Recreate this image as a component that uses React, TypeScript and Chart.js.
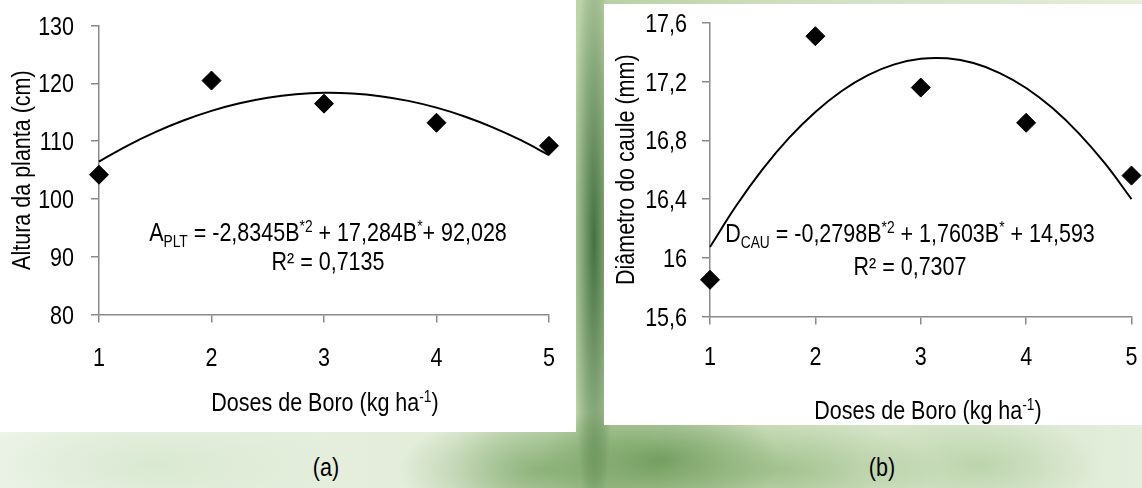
import React, { useEffect, useRef } from "react";
import { Chart, registerables } from "chart.js";

Chart.register(...registerables);

// ---------- data ----------
const doses = [1, 2, 3, 4, 5];
const alturaPlanta = [104.2, 120.5, 116.5, 113.2, 109.2];
const diametroCaule = [15.85, 17.51, 17.16, 16.92, 16.56];

// trend curves, x every 0.25
const trendX = [1, 1.25, 1.5, 1.75, 2, 2.25, 2.5, 2.75, 3, 3.25, 3.5, 3.75, 4, 4.25, 4.5, 4.75, 5];
const trendAltura = [106.478, 109.204, 111.576, 113.594, 115.258, 116.567, 117.522, 118.123, 118.37, 118.262, 117.799, 116.983, 115.812, 114.287, 112.407, 110.174, 107.586];
const trendDiametro = [16.074, 16.356, 16.604, 16.817, 16.994, 17.137, 17.245, 17.318, 17.356, 17.359, 17.327, 17.259, 17.157, 17.02, 16.848, 16.641, 16.4];

const xTicks = [1, 2, 3, 4, 5];
const xTickLabels = ["1", "2", "3", "4", "5"];
const yTicksA = [80, 90, 100, 110, 120, 130];
const yTickLabelsA = ["80", "90", "100", "110", "120", "130"];
const yTicksB = [15.6, 16, 16.4, 16.8, 17.2, 17.6];
const yTickLabelsB = ["15,6", "16", "16,4", "16,8", "17,2", "17,6"];

const FONT = "'Liberation Sans', Arial, sans-serif";
const SX = 0.86; // narrow (Arial Narrow-like) horizontal scale
const AXIS_COLOR = "#8a8a8a";

type Cfg = {
  values: number[];
  trend: number[];
  yTicks: number[];
  yLabels: string[];
  yTitle: string;
  yAxisWidth: number;
  yLabelRight: number;
  yTitleX: number;
  xLabelBase: number;
  padTop: number;
  padRight: number;
  padBottom: number;
  xAxisHeight: number;
};

const narrowLabels = {
  id: "narrowLabels",
  afterDraw(chart: any) {
    const c: Cfg = chart.options.plugins.narrowLabels.cfg;
    const ctx: CanvasRenderingContext2D = chart.ctx;
    const xs = chart.scales.x;
    const ys = chart.scales.y;
    ctx.save();
    ctx.fillStyle = "#000";
    ctx.font = `25px ${FONT}`;
    ctx.textBaseline = "alphabetic";
    // y tick labels
    ctx.textAlign = "right";
    c.yTicks.forEach((v, i) => {
      const y = ys.getPixelForValue(v);
      ctx.save();
      ctx.translate(c.yLabelRight, y + 9);
      ctx.scale(SX, 1);
      ctx.fillText(c.yLabels[i], 0, 0);
      ctx.restore();
    });
    // x tick labels
    ctx.textAlign = "center";
    xTicks.forEach((v, i) => {
      const x = xs.getPixelForValue(v);
      ctx.save();
      ctx.translate(x, c.xLabelBase);
      ctx.scale(SX, 1);
      ctx.fillText(xTickLabels[i], 0, 0);
      ctx.restore();
    });
    // y title
    ctx.save();
    ctx.translate(c.yTitleX, (ys.top + ys.bottom) / 2);
    ctx.rotate(-Math.PI / 2);
    ctx.scale(SX, 1);
    ctx.textAlign = "center";
    ctx.fillText(c.yTitle, 0, 0);
    ctx.restore();
    ctx.restore();
  },
};

function makeChart(canvas: HTMLCanvasElement, c: Cfg) {
  const grid = { display: true, drawOnChartArea: false, drawTicks: true, tickLength: 8, color: AXIS_COLOR, lineWidth: 1.5 };
  const border = { display: true, color: AXIS_COLOR, width: 1.5 };
  return new Chart(canvas, {
    type: "scatter",
    data: {
      datasets: [
        {
          data: doses.map((x, i) => ({ x, y: c.values[i] })),
          pointStyle: "rectRot",
          pointRadius: 9.5,
          backgroundColor: "#000",
          borderColor: "#000",
          borderWidth: 1,
          clip: false,
          order: 0,
        } as any,
        {
          data: trendX.map((x, i) => ({ x, y: c.trend[i] })),
          showLine: true,
          pointRadius: 0,
          borderColor: "#000",
          borderWidth: 2,
          tension: 0.4,
          fill: false,
          clip: false,
          order: 1,
        } as any,
      ],
    },
    plugins: [narrowLabels],
    options: {
      animation: false,
      responsive: false,
      events: [],
      layout: { padding: { left: 0, top: c.padTop, right: c.padRight, bottom: c.padBottom } },
      plugins: {
        legend: { display: false },
        tooltip: { enabled: false },
        title: { display: false },
        narrowLabels: { cfg: c },
      },
      scales: {
        x: {
          type: "linear",
          min: 1,
          max: 5,
          afterBuildTicks: (s: any) => {
            s.ticks = xTicks.map((v) => ({ value: v }));
          },
          afterFit: (s: any) => {
            s.height = c.xAxisHeight;
          },
          ticks: { display: false },
          grid,
          border,
        },
        y: {
          type: "linear",
          min: c.yTicks[0],
          max: c.yTicks[c.yTicks.length - 1],
          afterBuildTicks: (s: any) => {
            s.ticks = c.yTicks.map((v) => ({ value: v }));
          },
          afterFit: (s: any) => {
            s.width = c.yAxisWidth;
          },
          ticks: { display: false },
          grid,
          border,
          title: { display: false },
        },
      },
    } as any,
  });
}

const txt: React.CSSProperties = {
  position: "absolute",
  fontFamily: FONT,
  fontSize: 25,
  lineHeight: "30px",
  color: "#000",
  whiteSpace: "nowrap",
  textAlign: "center",
  transform: `scaleX(${SX})`,
  transformOrigin: "50% 50%",
};
const sub: React.CSSProperties = { fontSize: 16, position: "relative", top: 6 };
const sup: React.CSSProperties = { fontSize: 16, position: "relative", top: -9 };

export default function App() {
  const refA = useRef<HTMLCanvasElement>(null);
  const refB = useRef<HTMLCanvasElement>(null);

  useEffect(() => {
    const a = makeChart(refA.current!, {
      values: alturaPlanta,
      trend: trendAltura,
      yTicks: yTicksA,
      yLabels: yTickLabelsA,
      yTitle: "Altura da planta (cm)",
      yAxisWidth: 99,
      yLabelRight: 74,
      yTitleX: 30,
      xLabelBase: 365.5,
      padTop: 25.7,
      padRight: 576 - 549,
      padBottom: 432 - 314.5 - 60,
      xAxisHeight: 60,
    });
    const b = makeChart(refB.current!, {
      values: diametroCaule,
      trend: trendDiametro,
      yTicks: yTicksB,
      yLabels: yTickLabelsB,
      yTitle: "Diâmetro do caule (mm)",
      yAxisWidth: 106,
      yLabelRight: 83,
      yTitleX: 30,
      xLabelBase: 361,
      padTop: 19,
      padRight: 538 - 531,
      padBottom: 421 - 312.5 - 60,
      xAxisHeight: 60,
    });
    return () => {
      a.destroy();
      b.destroy();
    };
  }, []);

  const bg =
    "radial-gradient(ellipse 22px 300px at 594px 240px, rgba(40,90,40,0.8), rgba(40,90,40,0) 100%)," +
    "radial-gradient(ellipse 120px 60px at 660px 460px, rgba(90,140,70,0.7), rgba(90,140,70,0) 100%)," +
    "radial-gradient(ellipse 140px 60px at 540px 470px, rgba(100,150,80,0.6), rgba(100,150,80,0) 100%)," +
    "radial-gradient(ellipse 160px 50px at 780px 470px, rgba(120,165,95,0.5), rgba(120,165,95,0) 100%)," +
    "radial-gradient(ellipse 120px 50px at 980px 465px, rgba(150,190,130,0.45), rgba(150,190,130,0) 100%)," +
    "radial-gradient(ellipse 200px 60px at 150px 465px, rgba(200,225,190,0.5), rgba(200,225,190,0) 100%)," +
    "linear-gradient(90deg, #eef4ea 0%, #e2ecd8 40%, #b8d0a4 52%, #cfe0c0 70%, #e4eedc 100%)";

  return (
    <div
      style={{
        position: "fixed",
        left: 0,
        top: 0,
        width: 1142,
        height: 488,
        overflow: "hidden",
        background: bg,
      }}
    >
      <div style={{ position: "absolute", left: 0, top: 0, width: 576, height: 432, background: "#fff" }}>
        <canvas ref={refA} width={576} height={432} style={{ display: "block", width: 576, height: 432 }} />
      </div>
      <div style={{ position: "absolute", left: 604, top: 4, width: 538, height: 421, background: "#fff" }}>
        <canvas ref={refB} width={538} height={421} style={{ display: "block", width: 538, height: 421 }} />
      </div>

      {/* equation (a) */}
      <div style={{ ...txt, left: 78, width: 500, top: 217 }}>
        A<span style={sub}>PLT</span> = -2,8345B<span style={sup}>*2</span> + 17,284B<span style={sup}>*</span>+ 92,028
      </div>
      <div style={{ ...txt, left: 78, width: 500, top: 246 }}>R² = 0,7135</div>

      {/* equation (b) */}
      <div style={{ ...txt, left: 660, width: 500, top: 218 }}>
        D<span style={sub}>CAU</span> = -0,2798B<span style={sup}>*2</span> + 1,7603B<span style={sup}>*</span> + 14,593
      </div>
      <div style={{ ...txt, left: 660, width: 500, top: 251 }}>R² = 0,7307</div>

      {/* x titles */}
      <div style={{ ...txt, left: 75, width: 500, top: 387 }}>
        Doses de Boro (kg ha<span style={sup}>-1</span>)
      </div>
      <div style={{ ...txt, left: 678, width: 500, top: 395 }}>
        Doses de Boro (kg ha<span style={sup}>-1</span>)
      </div>

      {/* panel labels */}
      <div style={{ ...txt, left: 276, width: 100, top: 452 }}>(a)</div>
      <div style={{ ...txt, left: 832, width: 100, top: 452 }}>(b)</div>
    </div>
  );
}
